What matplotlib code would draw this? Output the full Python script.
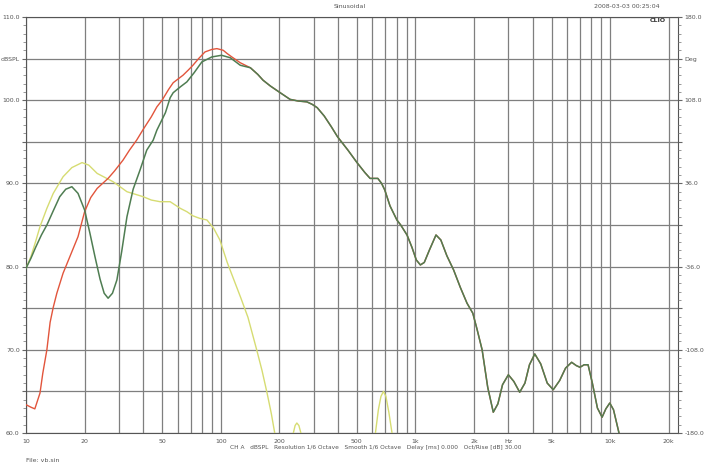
import numpy as np
import matplotlib
matplotlib.use("Agg")
import matplotlib.pyplot as plt
from matplotlib.ticker import FixedLocator, MultipleLocator, NullFormatter

# --- data (frequency in Hz, level in dBSPL) ---
red_lf_freq = [10, 10.6, 11.1, 11.8, 12.2, 12.8, 13.3, 13.8, 14.4, 15.5, 16.8,
               18.5, 20, 21.5, 23.2, 26.4, 28.5, 31.5, 34, 37, 40, 44, 47, 50,
               54, 57, 64, 68, 72, 77, 83, 90, 95.6, 103, 108, 114, 126]
red_lf_db = [63.4, 63.1, 62.9, 64.8, 67.2, 70.0, 73.3, 75.1, 76.8, 79.2, 81.2,
             83.6, 86.6, 88.3, 89.4, 90.6, 91.5, 92.8, 94.0, 95.2, 96.5, 98.0,
             99.2, 100.0, 101.3, 102.1, 103.0, 103.6, 104.2, 105.0, 105.8,
             106.1, 106.2, 106.0, 105.6, 105.2, 104.5]

green_lf_freq = [10, 10.6, 11.2, 12.0, 12.8, 13.8, 14.9, 16.0, 17.2, 18.5, 20,
                 21.3, 22.6, 24.0, 25.2, 26.4, 27.8, 29.3, 31.0, 33, 35.5,
                 38.5, 41.7, 45, 47, 52, 55, 57, 62, 67, 73, 80, 90, 101, 112,
                 126]
green_lf_db = [79.8, 81.0, 82.3, 83.8, 85.0, 86.7, 88.4, 89.3, 89.6, 88.8, 86.8,
               84.0, 81.2, 78.5, 76.8, 76.2, 76.8, 78.4, 81.8, 86.0, 89.3,
               91.6, 94.0, 95.2, 96.4, 98.5, 100.3, 100.9, 101.6, 102.2,
               103.3, 104.6, 105.2, 105.4, 105.1, 104.2]

# common part above ~140 Hz (red and green overlap)
hf_freq = [142, 155, 165, 180, 202, 227, 250, 277, 295, 313, 340, 370, 398,
           450, 501, 550, 585, 641, 670, 696, 740, 803, 840, 905, 960, 1010,
           1060, 1110, 1180, 1275, 1350, 1450, 1570, 1700, 1840, 1970, 2070,
           2200, 2350, 2510, 2650, 2800, 3000, 3200, 3430, 3650, 3850, 4100,
           4400, 4750, 5100, 5500, 5900, 6340, 6700, 7000, 7350, 7700, 8100,
           8600, 9090, 9500, 9950, 10400, 11100, 11800]
hf_db = [103.9, 103.1, 102.4, 101.7, 100.9, 100.1, 99.9, 99.8, 99.5, 99.1,
         98.1, 96.8, 95.6, 94.0, 92.5, 91.3, 90.6, 90.6, 90.0, 89.2, 87.3,
         85.6, 85.0, 83.8, 82.3, 80.8, 80.2, 80.5, 82.0, 83.8, 83.2, 81.3,
         79.6, 77.5, 75.6, 74.4, 72.5, 70.0, 65.5, 62.5, 63.5, 65.8, 67.0,
         66.2, 64.9, 66.0, 68.2, 69.5, 68.3, 66.0, 65.2, 66.3, 67.8, 68.5,
         68.1, 67.9, 68.2, 68.2, 66.0, 63.0, 61.9, 62.9, 63.6, 62.8, 60.0,
         57.5]

yellow_freq = [10, 10.6, 11.2, 11.8, 12.8, 13.8, 15.5, 17.2, 19.4, 21.0, 23.2,
               25.5, 28, 33, 40, 44, 48.8, 55, 62, 67, 72, 78, 85, 92, 99, 108,
               116, 127, 138, 153, 163, 173, 182, 190, 200, 215, 230, 236,
               241, 246, 252, 258, 270, 400, 600, 623, 645, 665, 685, 705, 730,
               758, 790, 820]
yellow_db = [79.8, 81.2, 83.0, 84.8, 87.0, 88.8, 90.8, 91.9, 92.5, 92.2, 91.2,
             90.7, 90.2, 89.0, 88.4, 88.0, 87.8, 87.8, 87.0, 86.6, 86.1, 85.8,
             85.6, 84.6, 83.2, 80.5, 78.6, 76.2, 73.9, 70.0, 67.5, 64.8, 62.3,
             59.8, 57.0, 52.0, 58.5, 60.0, 60.9, 61.2, 60.9, 60.0, 55.0, 40.0,
             57.0, 60.0, 62.8, 64.4, 65.0, 64.4, 62.5, 60.0, 57.0, 52.0]

grid_freqs = ([10, 20, 30, 40, 50, 60, 70, 80, 90,
               100, 200, 300, 400, 500, 600, 700, 800, 900,
               1000, 2000, 3000, 4000, 5000, 6000, 7000, 8000, 9000,
               10000, 20000])
xlabel_map = {10: "10", 20: "20", 50: "50", 100: "100", 200: "200",
              500: "500", 1000: "1k", 2000: "2k", 3000: "Hz", 5000: "5k",
              10000: "10k", 20000: "20k"}
left_ticks = [60, 65, 70, 75, 80, 85, 90, 95, 100, 105, 110]
left_labels = ["60.0", "", "70.0", "", "80.0", "", "90.0", "", "100.0",
               "dBSPL", "110.0"]
right_ticks = [-180, -144, -108, -72, -36, 0, 36, 72, 108, 144, 180]
right_labels = ["-180.0", "", "-108.0", "", "-36.0", "", "36.0", "", "108.0",
                "Deg", "180.0"]

RED = "#e2553c"
GREEN = "#4f7d52"
YELLOW = "#d6dc72"
GRID = "#7f7f7f"
TXT = "#555555"

fig = plt.figure(figsize=(7.05, 4.67), dpi=100)
ax = fig.add_axes([26 / 705, 34 / 467, 652 / 705, 416 / 467])

red_f = red_lf_freq + hf_freq
red_d = red_lf_db + hf_db
green_f = green_lf_freq + hf_freq
green_d = green_lf_db + hf_db

ax.plot(yellow_freq, yellow_db, color=YELLOW, lw=1.0, zorder=3)
ax.plot(red_f, red_d, color=RED, lw=1.0, zorder=4)
ax.plot(green_f, green_d, color=GREEN, lw=1.1, zorder=5)

ax.set_xscale("log")
ax.set_xlim(10, 22300)
ax.set_ylim(60, 110)

ax.xaxis.set_major_locator(FixedLocator(grid_freqs))
ax.xaxis.set_minor_locator(FixedLocator([]))
ax.set_xticklabels([xlabel_map.get(f, "") for f in grid_freqs])
ax.tick_params(axis="x", length=0, labelsize=4.5, labelcolor=TXT, pad=4)

ax.set_yticks(left_ticks)
ax.set_yticklabels(left_labels)
ax.yaxis.set_minor_locator(MultipleLocator(1))
ax.tick_params(axis="y", which="major", direction="out", length=3,
               labelsize=4.5, labelcolor=TXT, color="#666666", pad=1.5)
ax.tick_params(axis="y", which="minor", direction="out", length=2,
               color="#888888")

ax.grid(True, which="major", color=GRID, lw=0.9)
for s in ax.spines.values():
    s.set_color("#555555")
    s.set_linewidth(0.8)

ax2 = ax.twinx()
ax2.set_ylim(-180, 180)
ax2.set_yticks(right_ticks)
ax2.set_yticklabels(right_labels)
ax2.yaxis.set_minor_locator(MultipleLocator(7.2))
ax2.tick_params(axis="y", which="major", direction="out", length=3,
                labelsize=4.5, labelcolor=TXT, color="#666666", pad=1.5)
ax2.tick_params(axis="y", which="minor", direction="out", length=2,
                color="#888888")
for s in ax2.spines.values():
    s.set_visible(False)

fig.text(350 / 705, 1 - 7 / 467, "Sinusoidal", ha="center", va="center",
         fontsize=4.5, color=TXT)
fig.text(660 / 705, 1 - 7 / 467, "2008-03-03 00:25:04", ha="right",
         va="center", fontsize=4.5, color=TXT)
fig.text(658 / 705, 1 - 21 / 467, "CLIO", ha="center", va="center",
         fontsize=4.5, color="#333333", fontweight="bold")
fig.text(230 / 705, 1 - 448 / 467,
         "CH A   dBSPL   Resolution 1/6 Octave   Smooth 1/6 Octave   "
         "Delay [ms] 0.000   Oct/Rise [dB] 30.00",
         ha="left", va="center", fontsize=4.2, color=TXT)
fig.text(26 / 705, 1 - 460 / 467, "File: vb.sin", ha="left", va="center",
         fontsize=4.5, color=TXT)

fig.savefig("out.png", dpi=100)
